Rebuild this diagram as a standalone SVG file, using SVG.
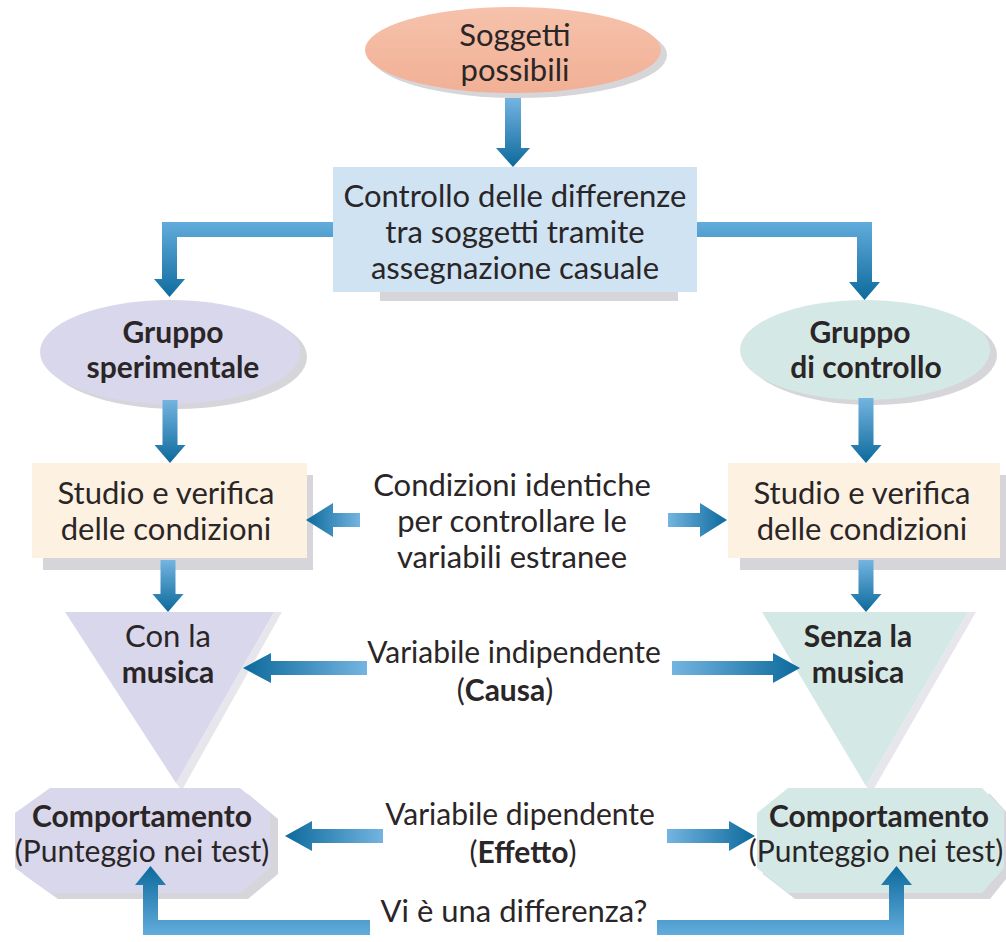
<svg xmlns="http://www.w3.org/2000/svg" width="1006" height="942" viewBox="0 0 1006 942">
<style>
text{font-family:Lato,"Liberation Sans",sans-serif;font-size:31px;fill:#2a2526;text-anchor:middle}
.b{font-weight:bold;font-size:30px}
.s{font-size:30px}
.sh{fill:#d6d6da}
</style>
<defs>
<linearGradient id="gDown" x1="0" y1="0" x2="0" y2="1"><stop offset="0" stop-color="#74b4e0"/><stop offset="1" stop-color="#0c6a9c"/></linearGradient>
<linearGradient id="gLeft" x1="1" y1="0" x2="0" y2="0"><stop offset="0" stop-color="#74b4e0"/><stop offset="1" stop-color="#0c6a9c"/></linearGradient>
<linearGradient id="gRight" x1="0" y1="0" x2="1" y2="0"><stop offset="0" stop-color="#74b4e0"/><stop offset="1" stop-color="#0c6a9c"/></linearGradient>
<linearGradient id="gL" gradientUnits="userSpaceOnUse" x1="0" y1="222" x2="0" y2="300"><stop offset="0" stop-color="#62acdc"/><stop offset="1" stop-color="#0c6a9c"/></linearGradient>
<linearGradient id="gU" gradientUnits="userSpaceOnUse" x1="0" y1="935" x2="0" y2="866"><stop offset="0" stop-color="#62acdc"/><stop offset="1" stop-color="#0c6a9c"/></linearGradient>
<linearGradient id="gEll" x1="0" y1="0" x2="0" y2="1"><stop offset="0" stop-color="#f6c2ab"/><stop offset="1" stop-color="#f1b096"/></linearGradient>
</defs>

<g id="n-soggetti">
<ellipse class="sh" cx="519" cy="55" rx="148" ry="43"/>
<ellipse cx="513" cy="50" rx="148" ry="43" fill="url(#gEll)"/>
<text x="515" y="46">Soggetti</text>
<text x="515" y="81">possibili</text>
</g>

<g id="n-controllo">
<rect class="sh" x="380" y="200" width="298" height="101"/>
<rect x="333" y="167" width="364" height="125" fill="#cfe3f3"/>
<text x="515" y="207">Controllo delle differenze</text>
<text x="515" y="243">tra soggetti tramite</text>
<text x="515" y="279">assegnazione casuale</text>
</g>

<g id="n-sperimentale">
<ellipse class="sh" cx="177" cy="357" rx="130" ry="52"/>
<ellipse cx="170" cy="352" rx="130" ry="52" fill="#d9d7eb"/>
<text class="b" x="173" y="343">Gruppo</text>
<text class="b" x="173" y="378">sperimentale</text>
</g>

<g id="n-gcontrollo">
<ellipse class="sh" cx="872" cy="355" rx="125" ry="50"/>
<ellipse cx="865" cy="350" rx="125" ry="50" fill="#d4e9e6"/>
<text class="b" x="860" y="343">Gruppo</text>
<text class="b" x="866" y="378">di controllo</text>
</g>

<g id="n-studio-sx">
<rect class="sh" x="43" y="475" width="270" height="95"/>
<rect x="32" y="463" width="275" height="95" fill="#fdf1e2"/>
<text x="166" y="504">Studio e verifica</text>
<text x="166" y="540">delle condizioni</text>
</g>

<g id="n-studio-dx">
<rect class="sh" x="740" y="475" width="266" height="95"/>
<rect x="728" y="463" width="272" height="95" fill="#fdf1e2"/>
<text x="862" y="504">Studio e verifica</text>
<text x="862" y="540">delle condizioni</text>
</g>

<g id="n-condizioni">
<text x="512" y="496">Condizioni identiche</text>
<text x="512" y="532">per controllare le</text>
<text x="512" y="568">variabili estranee</text>
</g>

<g id="n-con-musica">
<polygon points="274,612 282,612 182,790 176,783" fill="#e6e6ec"/>
<polygon points="65,612 274,612 176,783" fill="#d9d7eb"/>
<text x="168" y="647">Con la</text>
<text class="b" x="168" y="683">musica</text>
</g>

<g id="n-senza-musica">
<polygon points="968,612 976,612 872,792 866,786" fill="#e6e6ec"/>
<polygon points="762,612 968,612 866,786" fill="#d4e9e6"/>
<text class="b" x="858" y="647">Senza la</text>
<text class="b" x="858" y="683">musica</text>
</g>

<g id="n-indipendente">
<text class="s" x="514" y="663">Variabile indipendente</text>
<text class="s" x="505" y="701">(<tspan font-weight="bold">Causa</tspan>)</text>
</g>

<g id="n-comp-sx">
<polygon class="sh" points="58,794 248,794 278,819 278,874 248,899 58,899 23,874 23,819"/>
<polygon points="50,788 240,788 270,813 270,868 240,893 50,893 15,868 15,813" fill="#d9d7eb"/>
<text class="b" x="142" y="827">Comportamento</text>
<text class="s" x="142" y="862">(Punteggio nei test)</text>
</g>

<g id="n-comp-dx">
<polygon class="sh" points="795,794 990,794 1010,816 1010,874 990,899 795,899 763,874 763,819"/>
<polygon points="788,788 982,788 1004,810 1004,868 982,893 788,893 757,868 757,813" fill="#d4e9e6"/>
<text class="b" x="879" y="827">Comportamento</text>
<text class="s" x="876" y="862">(Punteggio nei test)</text>
</g>

<g id="n-dipendente">
<text class="s" x="520" y="825">Variabile dipendente</text>
<text class="s" x="523" y="863">(<tspan font-weight="bold">Effetto</tspan>)</text>
</g>

<g id="n-differenza">
<text x="514" y="922">Vi è una differenza?</text>
</g>

<g id="connectors">
<path fill="url(#gDown)" d="M505,98 h16 V148 h9 L513,167 L496,148 h9 Z"/>
<path fill="url(#gL)" d="M333,222 H162 V279 H154 L169.5,297 L185,279 H177 V237 H333 Z"/>
<path fill="url(#gL)" d="M697,222 H872 V282 H880 L864.5,300 L849,282 H857 V237 H697 Z"/>
<path fill="url(#gDown)" d="M162.5,400 h15 V445 h8 L170,463 L154.5,445 h8 Z"/>
<path fill="url(#gDown)" d="M858.5,398 h15 V445 h8 L866,463 L850.5,445 h8 Z"/>
<path fill="url(#gDown)" d="M160.5,560 h15 V594 h8 L168,612 L152.5,594 h8 Z"/>
<path fill="url(#gDown)" d="M858.5,560 h15 V594 h8 L866,612 L850.5,594 h8 Z"/>
<path fill="url(#gLeft)" d="M360,513 V527 H333 V537 L306,520 L333,503 V513 Z"/>
<path fill="url(#gRight)" d="M668,513 V527 H700 V537 L727,520 L700,503 V513 Z"/>
<path fill="url(#gLeft)" d="M367,661 V675 H271 V683 L243,668 L271,653 V661 Z"/>
<path fill="url(#gRight)" d="M672,661 V675 H773 V683 L800,668 L773,653 V661 Z"/>
<path fill="url(#gLeft)" d="M383,829 V843 H312 V851 L285,836 L312,821 V829 Z"/>
<path fill="url(#gRight)" d="M667,829 V843 H729 V851 L755,836 L729,821 V829 Z"/>
<path fill="url(#gU)" d="M370,920 H158 V885 H166 L150.5,866 L135,885 H143 V935 H370 Z"/>
<path fill="url(#gU)" d="M657,920 H889 V885 H881 L896.5,866 L912,885 H904 V935 H657 Z"/>
</g>
</svg>
